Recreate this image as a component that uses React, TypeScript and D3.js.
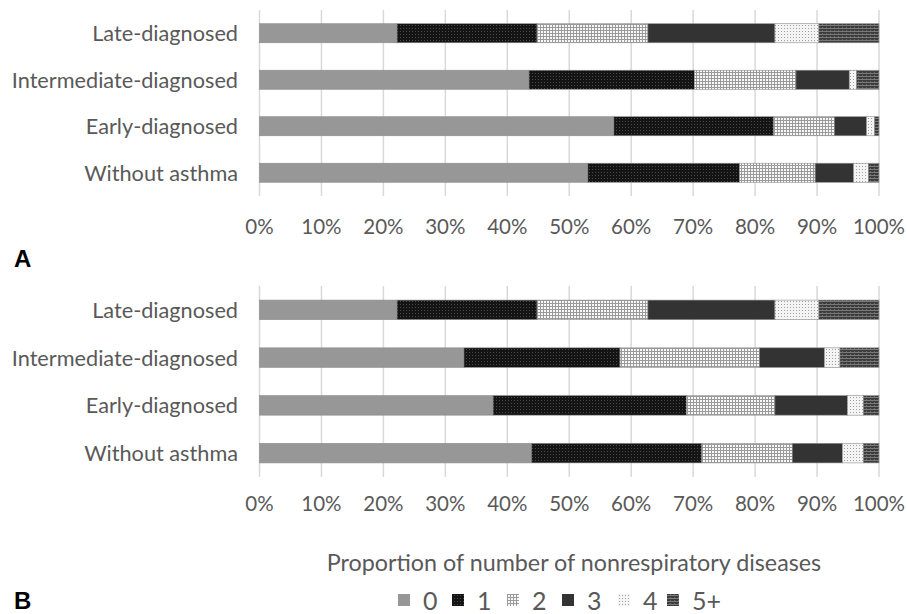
import React from "react";
import * as d3 from "d3";

const categories = ["Late-diagnosed", "Intermediate-diagnosed", "Early-diagnosed", "Without asthma"];
const seriesKeys = ["0", "1", "2", "3", "4", "5+"];
const panelA: number[][] = [
  [22.2, 22.6, 17.9, 20.5, 7.1, 9.7],
  [43.5, 26.7, 16.4, 8.6, 1.2, 3.6],
  [57.2, 25.8, 9.8, 5.2, 1.3, 0.7],
  [53.0, 24.5, 12.2, 6.2, 2.4, 1.7],
];
const panelB: number[][] = [
  [22.2, 22.6, 17.9, 20.5, 7.1, 9.7],
  [33.0, 25.2, 22.5, 10.5, 2.5, 6.3],
  [37.7, 31.2, 14.3, 11.7, 2.6, 2.5],
  [43.9, 27.5, 14.6, 8.1, 3.4, 2.5],
];
const tickValues = [0, 10, 20, 30, 40, 50, 60, 70, 80, 90, 100];
const panelLabels = ["A", "B"];
const axisTitle = "Proportion of number of nonrespiratory diseases";

const W = 907;
const H = 614;
const FONT = "Lato, 'Open Sans', sans-serif";
const TEXT = "#595959";
const fills = ["#979797", "url(#p1)", "url(#p2)", "#333333", "url(#p4)", "url(#p5)"];

const x = d3.scaleLinear().domain([0, 100]).range([259.5, 879]);

function Panel({ data, top, bottom, tickY }: { data: number[][]; top: number; bottom: number; tickY: number }) {
  const y = d3.scaleBand<string>().domain(categories).range([top, bottom]).paddingInner(0.59).paddingOuter(0.295);
  const stacked = data.map((row) => {
    let acc = 0;
    return row.map((v) => {
      const s = acc;
      acc += v;
      return [s, acc];
    });
  });
  return (
    <g>
      {tickValues.map((t) => (
        <line key={t} x1={x(t)} x2={x(t)} y1={top} y2={bottom} stroke="#d9d9d9" strokeWidth={1.5} />
      ))}
      {categories.map((c, i) => (
        <g key={c}>
          {stacked[i].map(([s, e], k) => (
            <rect
              key={k}
              x={x(s)}
              y={y(c)!}
              width={Math.max(0, x(e) - x(s))}
              height={y.bandwidth()}
              fill={fills[k]}
              stroke="#8c8c8c"
              strokeWidth={0.6}
            />
          ))}
          <text
            x={238}
            y={y(c)! + y.bandwidth() / 2}
            textAnchor="end"
            dominantBaseline="central"
            fontFamily={FONT}
            fontSize={21.7}
            fill={TEXT}
          >
            {c}
          </text>
        </g>
      ))}
      {tickValues.map((t) => (
        <text
          key={t}
          x={x(t)}
          y={tickY}
          textAnchor="middle"
          dominantBaseline="central"
          fontFamily={FONT}
          fontSize={20.5}
          fill={TEXT}
        >
          {t + "%"}
        </text>
      ))}
    </g>
  );
}

export default function App() {
  const legendX = [398, 452, 507, 562, 618, 667];
  return (
    <svg width={W} height={H} style={{ position: "absolute", left: 0, top: 0, background: "#fff" }}>
      <defs>
        <pattern id="p1" width={3} height={3} patternUnits="userSpaceOnUse">
          <rect width={3} height={3} fill="#141414" />
          <rect x={1} y={1} width={1} height={1} fill="#4a4a4a" />
        </pattern>
        <pattern id="p2" width={3} height={3} patternUnits="userSpaceOnUse">
          <rect width={3} height={3} fill="#f8f8f8" />
          <rect x={0} y={0} width={3} height={1} fill="#9a9a9a" />
          <rect x={0} y={0} width={1} height={3} fill="#9a9a9a" />
        </pattern>
        <pattern id="p4" width={3} height={3} patternUnits="userSpaceOnUse">
          <rect width={3} height={3} fill="#f4f4f4" />
          <rect x={1} y={1} width={1} height={1} fill="#a0a0a0" />
        </pattern>
        <pattern id="p5" width={4} height={3} patternUnits="userSpaceOnUse">
          <rect width={4} height={3} fill="#3c3c3c" />
          <rect x={0} y={1} width={4} height={1} fill="#7a7a7a" />
          <rect x={2} y={0} width={1} height={1} fill="#6a6a6a" />
        </pattern>
      </defs>
      <rect width={W} height={H} fill="#fff" />
      <Panel data={panelA} top={10} bottom={196} tickY={226} />
      <Panel data={panelB} top={286} bottom={477} tickY={503} />
      <text x={14} y={258} dominantBaseline="central" fontFamily="Arial, 'Liberation Sans', sans-serif" fontWeight="bold" fontSize={24} fill="#000">
        {panelLabels[0]}
      </text>
      <text x={14} y={600} dominantBaseline="central" fontFamily="Arial, 'Liberation Sans', sans-serif" fontWeight="bold" fontSize={24} fill="#000">
        {panelLabels[1]}
      </text>
      <text x={574} y={562} textAnchor="middle" dominantBaseline="central" fontFamily={FONT} fontSize={23.3} fill={TEXT}>
        {axisTitle}
      </text>
      {seriesKeys.map((k, i) => (
        <g key={k}>
          <rect x={legendX[i]} y={594} width={12} height={12} fill={fills[i]} />
          <text x={legendX[i] + 25} y={600} dominantBaseline="central" fontFamily={FONT} fontSize={25} fill={TEXT}>
            {k}
          </text>
        </g>
      ))}
    </svg>
  );
}
